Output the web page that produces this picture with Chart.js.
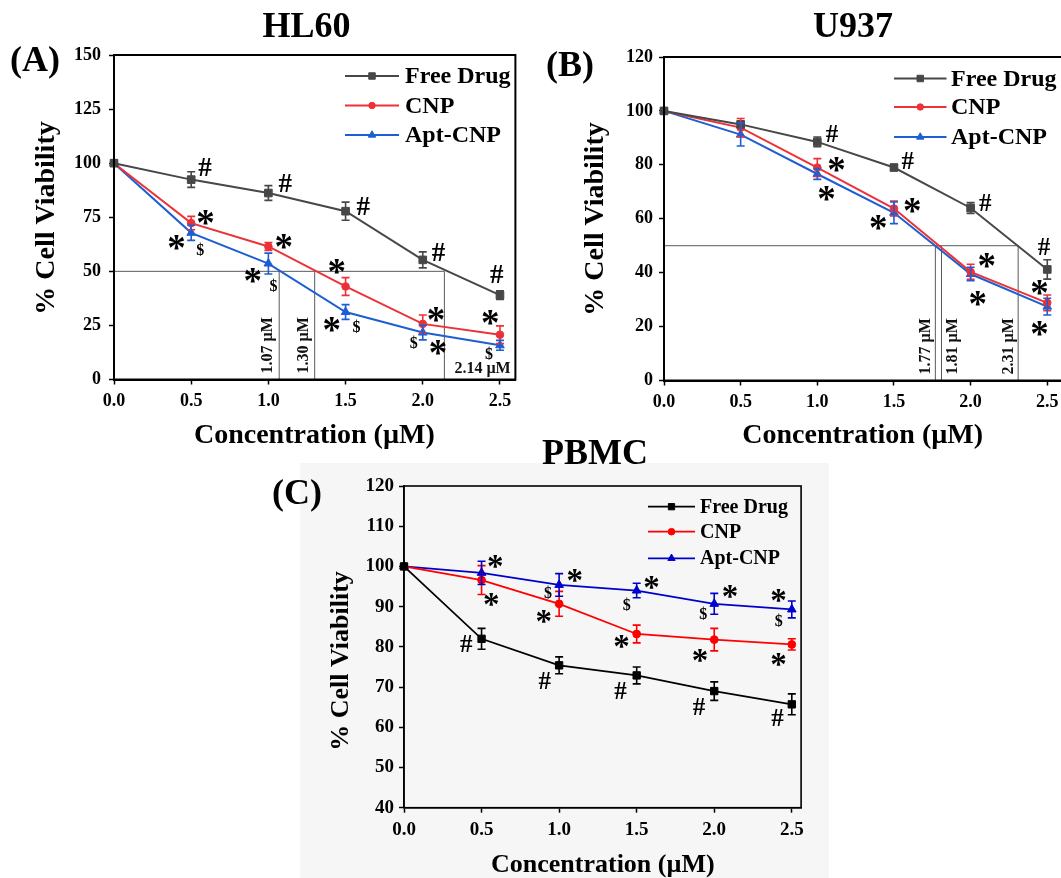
<!DOCTYPE html>
<html>
<head>
<meta charset="utf-8">
<title>Cell viability</title>
<script src="https://cdn.jsdelivr.net/npm/chart.js@4.4.1/dist/chart.umd.min.js"></script>
<style>
  html, body { margin: 0; padding: 0; background: #ffffff; overflow: hidden; }
  #page { position: relative; width: 1061px; height: 878px; overflow: hidden; background: #ffffff; }
  #pbmcBg { position: absolute; left: 300px; top: 463px; width: 529px; height: 415px; background: #f6f6f6; }
  canvas { position: absolute; }
</style>
</head>
<body>
<div id="page">
  <div id="pbmcBg"></div>
  <canvas id="hl60Chart" width="530" height="450" style="left:0px;top:0px;width:530px;height:450px"></canvas>
  <canvas id="u937Chart" width="540" height="450" style="left:530px;top:0px;width:540px;height:450px"></canvas>
  <canvas id="pbmcChart" width="600" height="448" style="left:250px;top:430px;width:600px;height:448px"></canvas>
</div>
<script>
// ---- data ----
const concentrations = [0, 0.5, 1.0, 1.5, 2.0, 2.5];
const xTickValues = [0, 0.5, 1.0, 1.5, 2.0, 2.5];
const seriesNames = ['Free Drug', 'CNP', 'Apt-CNP'];

// HL60
const hl60FreeDrug = [100, 92.4, 86.2, 77.8, 55.3, 39.0];
const hl60FreeDrugSd = [0, 3.6, 3.4, 4.2, 3.7, 2.0];
const hl60Cnp = [100, 72.3, 61.5, 43.0, 25.7, 20.7];
const hl60CnpSd = [0, 3.1, 1.8, 4.1, 4.1, 4.1];
const hl60AptCnp = [100, 67.8, 53.6, 31.2, 21.7, 15.8];
const hl60AptCnpSd = [0, 3.5, 4.8, 3.4, 3.4, 2.3];
const hl60Ic50 = [1.07, 1.30, 2.14];
const hl60YTicks = [0, 25, 50, 75, 100, 125, 150];
// significance marks: [symbol, series index, concentration index]
const hl60Marks = [
  ['#', 0, 1], ['#', 0, 2], ['#', 0, 3], ['#', 0, 4], ['#', 0, 5],
  ['*', 1, 1], ['*', 2, 1], ['$', 2, 1],
  ['*', 1, 2], ['*', 2, 2], ['$', 2, 2],
  ['*', 1, 3], ['*', 2, 3], ['$', 2, 3],
  ['*', 1, 4], ['$', 2, 4], ['*', 2, 4],
  ['*', 1, 5], ['$', 2, 5]
];

// U937
const u937FreeDrug = [100, 95.0, 88.5, 79.0, 64.0, 41.2];
const u937FreeDrugSd = [0, 1.0, 1.8, 1.0, 2.0, 3.6];
const u937Cnp = [100, 93.8, 79.0, 63.8, 40.3, 28.8];
const u937CnpSd = [0, 3.4, 3.3, 2.8, 2.8, 2.9];
const u937AptCnp = [100, 91.2, 76.6, 62.2, 39.5, 27.4];
const u937AptCnpSd = [0, 4.2, 2.0, 4.0, 2.5, 3.1];
const u937Ic50 = [1.77, 1.81, 2.31];
const u937YTicks = [0, 20, 40, 60, 80, 100, 120];
const u937Marks = [
  ['#', 0, 2], ['#', 0, 3], ['#', 0, 4], ['#', 0, 5],
  ['*', 1, 2], ['*', 2, 2], ['*', 1, 3], ['*', 2, 3],
  ['*', 1, 4], ['*', 2, 4], ['*', 1, 5], ['*', 2, 5]
];

// PBMC
const pbmcFreeDrug = [100, 82.0, 75.4, 72.9, 69.0, 65.7];
const pbmcFreeDrugSd = [0, 2.6, 2.1, 2.1, 2.3, 2.6];
const pbmcCnp = [100, 96.6, 90.7, 83.2, 81.8, 80.6];
const pbmcCnpSd = [0, 3.6, 3.1, 2.2, 2.8, 1.4];
const pbmcAptCnp = [100, 98.4, 95.4, 94.0, 90.7, 89.3];
const pbmcAptCnpSd = [0, 2.9, 2.8, 1.8, 2.6, 2.1];
const pbmcYTicks = [40, 50, 60, 70, 80, 90, 100, 110, 120];
const pbmcMarks = [
  ['#', 0, 1], ['#', 0, 2], ['#', 0, 3], ['#', 0, 4], ['#', 0, 5],
  ['*', 2, 1], ['*', 1, 1],
  ['*', 2, 2], ['$', 2, 2], ['*', 1, 2],
  ['*', 2, 3], ['$', 2, 3], ['*', 1, 3],
  ['*', 2, 4], ['$', 2, 4], ['*', 1, 4],
  ['*', 2, 5], ['$', 2, 5], ['*', 1, 5]
];

// ---- layout and styling ----
const SERIF = '"Liberation Serif", "Times New Roman", Times, serif';
const pointStyles = ['rect', 'circle', 'triangle'];

const hl60MarkOffsets = [
  [14, -13], [17, -10], [18, -5], [16, -8], [-3, -21],
  [14, -6], [-15, 10], [9, 16],
  [15, -5], [-16, 12], [5, 21],
  [-9, -20], [-14, 12], [11, 14],
  [13, -9], [-9, 9], [15, 15],
  [-10, -17], [-11, 8]
];
const u937MarkOffsets = [
  [15, -8], [14, -7], [15, -5], [-3, -23],
  [19, -3], [9, 20], [18, -3], [-16, 10],
  [16, -11], [7, 24], [-8, -15], [-8, 22]
];
const pbmcMarkOffsets = [
  [-15, 5], [-14, 15], [-16, 15], [-15, 15], [-14, 13],
  [14, -11], [10, 19],
  [16, -9], [-11, 7], [-15, 13],
  [15, -8], [-10, 13], [-15, 8],
  [16, -12], [-11, 9], [-14, 16],
  [-13, -14], [-13, 11], [-13, 15]
];

const panels = [
  {
    canvas: 'hl60Chart', width: 530, height: 450,
    area: { left: 114, top: 55, right: 515.4, bottom: 379.5 },
    xMax: 2.6, yMin: 0, yMax: 150, yTicks: hl60YTicks,
    series: [hl60FreeDrug, hl60Cnp, hl60AptCnp],
    errors: [hl60FreeDrugSd, hl60CnpSd, hl60AptCnpSd],
    colors: ['#474747', '#ec3237', '#1d5fd3'],
    lineWidth: 2, axisWidth: 2, tickFont: 18, yTickPad: 8,
    pointRadius: [5.4, 3.8, 5],
    title: { text: 'HL60', x: 306, y: 25, size: 36 },
    letter: { text: '(A)', x: 35, y: 62, size: 36 },
    yTitle: { x: 47, y: 217, size: 28 },
    xTitle: { x: 314.7, y: 436, size: 28 },
    legend: { x0: 345, x1: 399, tx: 405, rows: [76, 105.5, 135], size: 24 },
    ic50: hl60Ic50,
    ic50Labels: [{ dx: -12 }, { dx: -12 }, { flat: true, dx: 10, dy: -11 }],
    marks: hl60Marks, markOffsets: hl60MarkOffsets,
    markFonts: { '#': 'bold 27px', '*': 'bold 37px', '$': 'bold 16px' }
  },
  {
    canvas: 'u937Chart', width: 540, height: 450,
    area: { left: 134, top: 57, right: 532.6, bottom: 380.5 },
    xMax: 2.6, yMin: 0, yMax: 120, yTicks: u937YTicks,
    series: [u937FreeDrug, u937Cnp, u937AptCnp],
    errors: [u937FreeDrugSd, u937CnpSd, u937AptCnpSd],
    colors: ['#474747', '#ec3237', '#1d5fd3'],
    lineWidth: 2, axisWidth: 2, tickFont: 18, yTickPad: 6,
    pointRadius: [5.4, 3.8, 5],
    title: { text: 'U937', x: 323, y: 25, size: 36 },
    letter: { text: '(B)', x: 40, y: 67, size: 36 },
    yTitle: { x: 66, y: 218, size: 28 },
    xTitle: { x: 333, y: 436, size: 28 },
    legend: { x0: 364, x1: 416.5, tx: 421, rows: [78.5, 107, 137], size: 24 },
    ic50: u937Ic50,
    ic50Labels: [{ dx: -10 }, { dx: 10 }, { dx: -10 }],
    marks: u937Marks, markOffsets: u937MarkOffsets,
    markFonts: { '#': 'bold 25px', '*': 'bold 37px', '$': 'bold 16px' }
  },
  {
    canvas: 'pbmcChart', width: 600, height: 448,
    area: { left: 154, top: 56, right: 551.1, bottom: 377.7 },
    xMax: 2.56, yMin: 40, yMax: 120, yTicks: pbmcYTicks,
    series: [pbmcFreeDrug, pbmcCnp, pbmcAptCnp],
    errors: [pbmcFreeDrugSd, pbmcCnpSd, pbmcAptCnpSd],
    colors: ['#000000', '#ff0000', '#0000cc'],
    lineWidth: 1.8, axisWidth: 1.6, tickFont: 19, yTickPad: 5,
    pointRadius: [5.2, 3.9, 5],
    title: { text: 'PBMC', x: 344, y: 22, size: 36 },
    letter: { text: '(C)', x: 47, y: 65, size: 36 },
    yTitle: { x: 91.7, y: 230, size: 26 },
    xTitle: { x: 353, y: 436, size: 26 },
    legend: { x0: 398, x1: 445, tx: 450, rows: [76.7, 101.7, 128.3], size: 20 },
    ic50: [],
    ic50Labels: [],
    marks: pbmcMarks, markOffsets: pbmcMarkOffsets,
    markFonts: { '#': 'bold 25px', '*': 'bold 33px', '$': 'bold 16px' }
  }
];
const panelById = {};
panels.forEach(p => { panelById[p.canvas] = p; });

// text whose ink box is centred on (cx, cy)
function drawCentered(ctx, text, cx, cy) {
  ctx.textAlign = 'left';
  ctx.textBaseline = 'alphabetic';
  const m = ctx.measureText(text);
  const x = cx - (m.actualBoundingBoxRight - m.actualBoundingBoxLeft) / 2;
  const y = cy + (m.actualBoundingBoxAscent - m.actualBoundingBoxDescent) / 2;
  ctx.fillText(text, x, y);
}

function drawMarker(ctx, style, x, y, r, color) {
  ctx.save();
  ctx.fillStyle = color;
  ctx.strokeStyle = color;
  ctx.lineWidth = 1;
  ctx.beginPath();
  if (style === 'rect') {
    const s = r * Math.SQRT1_2;
    ctx.rect(x - s, y - s, 2 * s, 2 * s);
  } else if (style === 'circle') {
    ctx.arc(x, y, r, 0, Math.PI * 2);
  } else {
    for (let k = 0; k < 3; k++) {
      const a = k * 2 * Math.PI / 3;
      const px = x + Math.sin(a) * r, py = y - Math.cos(a) * r;
      if (k === 0) ctx.moveTo(px, py); else ctx.lineTo(px, py);
    }
    ctx.closePath();
  }
  ctx.fill();
  ctx.stroke();
  ctx.restore();
}

const panelDecor = {
  id: 'panelDecor',
  beforeDatasetsDraw(chart) {
    // 50 % viability guide and IC50 drop lines with their labels
    const p = panelById[chart.canvas.id];
    if (!p.ic50.length) return;
    const ctx = chart.ctx, xs = chart.scales.x, ys = chart.scales.y;
    const y50 = ys.getPixelForValue(50), y0 = ys.getPixelForValue(p.yMin);
    ctx.save();
    ctx.strokeStyle = '#5a5a5a';
    ctx.lineWidth = 1;
    ctx.beginPath();
    ctx.moveTo(xs.getPixelForValue(0), y50);
    ctx.lineTo(xs.getPixelForValue(Math.max(...p.ic50)), y50);
    p.ic50.forEach(v => {
      const x = xs.getPixelForValue(v);
      ctx.moveTo(x, y50);
      ctx.lineTo(x, y0);
    });
    ctx.stroke();
    ctx.fillStyle = '#111';
    ctx.font = 'bold 16px ' + SERIF;
    p.ic50.forEach((v, i) => {
      const lab = p.ic50Labels[i];
      const text = v.toFixed(2) + ' \u00b5M';
      const x = xs.getPixelForValue(v);
      if (lab.flat) {
        ctx.textAlign = 'left';
        ctx.textBaseline = 'middle';
        ctx.fillText(text, x + lab.dx, y0 + lab.dy);
      } else {
        ctx.save();
        ctx.translate(x + lab.dx, y0 - 6);
        ctx.rotate(-Math.PI / 2);
        ctx.textAlign = 'left';
        ctx.textBaseline = 'middle';
        ctx.fillText(text, 0, 1);
        ctx.restore();
      }
    });
    ctx.restore();
  },
  afterDatasetsDraw(chart) {
    // standard deviation bars
    const p = panelById[chart.canvas.id];
    const ctx = chart.ctx, xs = chart.scales.x, ys = chart.scales.y;
    ctx.save();
    ctx.lineWidth = 1.6;
    p.series.forEach((vals, s) => {
      ctx.strokeStyle = p.colors[s];
      vals.forEach((v, j) => {
        const e = p.errors[s][j];
        if (!e) return;
        const x = xs.getPixelForValue(concentrations[j]);
        const yt = ys.getPixelForValue(v + e), yb = ys.getPixelForValue(v - e);
        ctx.beginPath();
        ctx.moveTo(x, yt); ctx.lineTo(x, yb);
        ctx.moveTo(x - 4, yt); ctx.lineTo(x + 4, yt);
        ctx.moveTo(x - 4, yb); ctx.lineTo(x + 4, yb);
        ctx.stroke();
      });
    });
    ctx.restore();
  },
  afterDraw(chart) {
    const p = panelById[chart.canvas.id];
    const ctx = chart.ctx, a = chart.chartArea, xs = chart.scales.x, ys = chart.scales.y;
    ctx.save();
    // frame
    ctx.strokeStyle = '#000';
    ctx.lineWidth = p.axisWidth;
    ctx.strokeRect(a.left, a.top, a.right - a.left, a.bottom - a.top);

    ctx.fillStyle = '#000';
    // significance marks
    p.marks.forEach((mk, i) => {
      const sym = mk[0], s = mk[1], j = mk[2];
      const off = p.markOffsets[i];
      const x = xs.getPixelForValue(concentrations[j]) + off[0];
      const y = ys.getPixelForValue(p.series[s][j]) + off[1];
      ctx.font = p.markFonts[sym] + ' ' + SERIF;
      drawCentered(ctx, sym, x, y);
    });

    // legend
    const L = p.legend;
    seriesNames.forEach((name, i) => {
      const y = L.rows[i];
      ctx.strokeStyle = p.colors[i];
      ctx.lineWidth = p.lineWidth;
      ctx.beginPath();
      ctx.moveTo(L.x0, y); ctx.lineTo(L.x1, y);
      ctx.stroke();
      drawMarker(ctx, pointStyles[i], (L.x0 + L.x1) / 2, y, p.pointRadius[i] * 0.85, p.colors[i]);
      ctx.fillStyle = '#000';
      ctx.font = 'bold ' + L.size + 'px ' + SERIF;
      ctx.textAlign = 'left';
      ctx.textBaseline = 'middle';
      ctx.fillText(name, L.tx, y + 1);
    });

    // titles
    ctx.fillStyle = '#000';
    ctx.font = 'bold ' + p.title.size + 'px ' + SERIF;
    drawCentered(ctx, p.title.text, p.title.x, p.title.y);
    ctx.font = 'bold ' + p.letter.size + 'px ' + SERIF;
    drawCentered(ctx, p.letter.text, p.letter.x, p.letter.y);
    ctx.font = 'bold ' + p.xTitle.size + 'px ' + SERIF;
    drawCentered(ctx, 'Concentration (\u00b5M)', p.xTitle.x, p.xTitle.y);
    ctx.save();
    ctx.translate(p.yTitle.x, p.yTitle.y);
    ctx.rotate(-Math.PI / 2);
    ctx.font = 'bold ' + p.yTitle.size + 'px ' + SERIF;
    drawCentered(ctx, '% Cell Viability', 0, 0);
    ctx.restore();
    ctx.restore();
  }
};

panels.forEach(p => {
  const datasets = p.series.map((vals, i) => ({
    label: seriesNames[i],
    data: concentrations.map((x, j) => ({ x: x, y: vals[j] })),
    borderColor: p.colors[i],
    backgroundColor: p.colors[i],
    pointBackgroundColor: p.colors[i],
    pointBorderColor: p.colors[i],
    pointStyle: pointStyles[i],
    pointRadius: p.pointRadius[i],
    pointBorderWidth: 1,
    borderWidth: p.lineWidth,
    tension: 0,
    clip: false
  }));
  const tickFont = { family: SERIF, size: p.tickFont, weight: 'bold' };
  new Chart(document.getElementById(p.canvas), {
    type: 'line',
    data: { datasets: datasets },
    options: {
      responsive: false,
      animation: false,
      events: [],
      layout: { padding: { left: 0, top: p.area.top, right: p.width - p.area.right, bottom: 0 } },
      plugins: {
        legend: { display: false },
        tooltip: { enabled: false },
        title: { display: false }
      },
      scales: {
        x: {
          type: 'linear', min: 0, max: p.xMax,
          afterBuildTicks: s => { s.ticks = xTickValues.map(v => ({ value: v })); },
          afterFit: s => { s.height = p.height - p.area.bottom; },
          ticks: {
            callback: v => Number(v).toFixed(1),
            font: tickFont, color: '#000', padding: 6, maxRotation: 0, autoSkip: false
          },
          grid: { drawOnChartArea: false, drawTicks: true, tickLength: 5, tickWidth: 1.5, tickColor: '#000', color: '#000' },
          border: { display: true, color: '#000', width: p.axisWidth }
        },
        y: {
          type: 'linear', min: p.yMin, max: p.yMax,
          afterBuildTicks: s => { s.ticks = p.yTicks.map(v => ({ value: v })); },
          afterFit: s => { s.width = p.area.left; },
          ticks: { font: tickFont, color: '#000', padding: p.yTickPad, autoSkip: false },
          grid: { drawOnChartArea: false, drawTicks: true, tickLength: 5, tickWidth: 1.5, tickColor: '#000', color: '#000' },
          border: { display: true, color: '#000', width: p.axisWidth }
        }
      }
    },
    plugins: [panelDecor]
  });
});
</script>
</body>
</html>
